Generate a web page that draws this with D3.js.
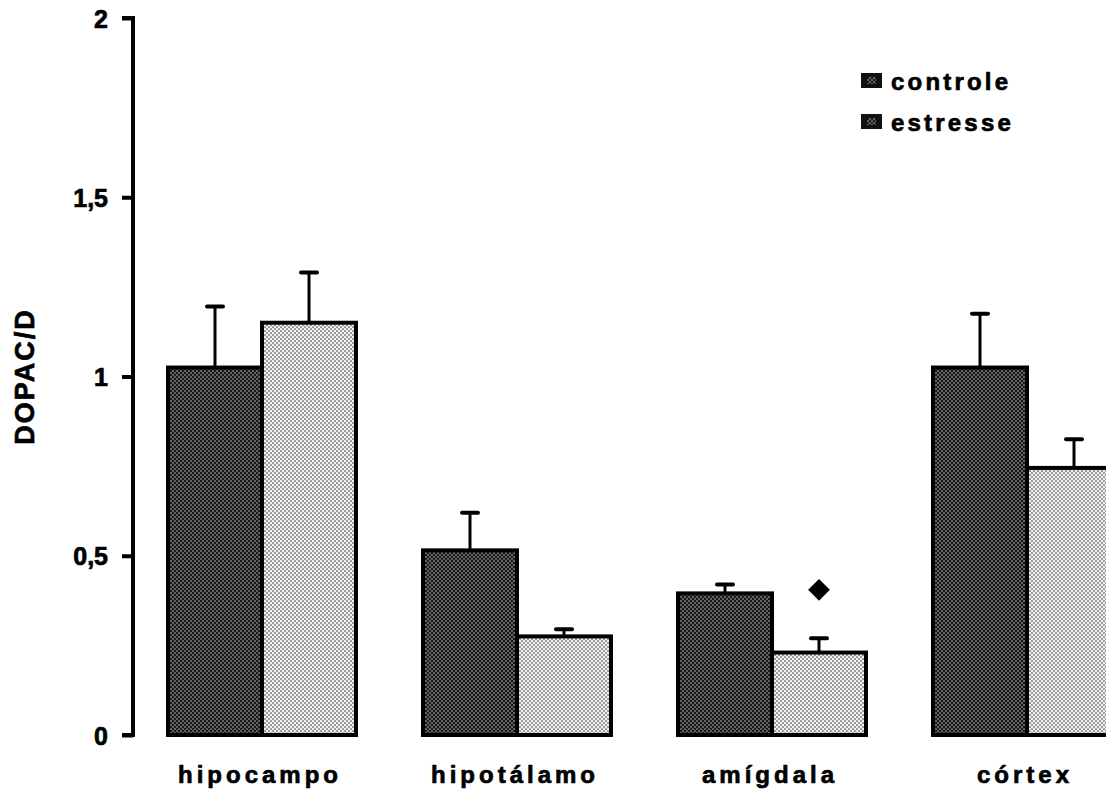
<!DOCTYPE html>
<html>
<head>
<meta charset="utf-8">
<script src="https://cdn.jsdelivr.net/npm/d3@7"></script>
<style>
  html, body { margin: 0; padding: 0; background: #fff; }
  svg { display: block; font-family: Arial, 'Liberation Sans', sans-serif; }
</style>
</head>
<body>
<svg id="chart" width="1106" height="792"></svg>
<script>
const regions = ['hipocampo', 'hipotálamo', 'amígdala', 'córtex']
const series = ['controle', 'estresse']
const controleMean = [1.025, 0.515, 0.395, 1.025]
const controleErr = [0.17, 0.105, 0.025, 0.15]
const estresseMean = [1.15, 0.275, 0.23, 0.745]
const estresseErr = [0.14, 0.02, 0.04, 0.08]
const yTicks = [0, 0.5, 1, 1.5, 2]
const marked = [{region: 'amígdala', value: 0.405}]  // diamond marker

const svg = d3.select('#chart')
const margins = {left: 133, top: 18, right: 0, bottom: 57}
const W = 1106, H = 792

// patterns: dotted halftone look
const defs = svg.append('defs')
function dots(id, bg, fg, r) {
  const p = defs.append('pattern')
    .attr('id', id).attr('width', 4).attr('height', 4)
    .attr('patternUnits', 'userSpaceOnUse')
  p.append('rect').attr('width', 4).attr('height', 4).attr('fill', bg)
  p.append('circle').attr('cx', 1).attr('cy', 1).attr('r', r).attr('fill', fg)
  p.append('circle').attr('cx', 3).attr('cy', 3).attr('r', r).attr('fill', fg)
}
dots('pat-controle', '#1a1a1a', '#d0d0d0', 0.75)
dots('pat-estresse', '#f0f0f0', '#4a4a4a', 0.85)

const y = d3.scaleLinear().domain([0, 2]).range([H - margins.bottom, margins.top])
// each group 255 px wide, junction of the two bars at the band centre
const x0 = d3.scaleBand().domain(regions).range([134.5, 1154.5]).paddingInner(0).paddingOuter(0)
const x1 = d3.scaleBand().domain(series).range([-94, 94])

const data = regions.map((r, i) => ({
  region: r,
  values: [
    {key: 'controle', mean: controleMean[i], err: controleErr[i]},
    {key: 'estresse', mean: estresseMean[i], err: estresseErr[i]},
  ]
}))

const center = (r) => x0(r) + x0.bandwidth() / 2

// heavier bold text, like the scanned original
const heavy = (sel) => sel.attr('stroke', '#000').attr('stroke-width', 0.7).attr('fill', '#000')

// y axis
const yAxis = d3.axisLeft(y).tickValues(yTicks).tickSize(11).tickPadding(14)
  .tickFormat((d) => d3.format('.1~f')(d).replace('.', ','))
const ya = svg.append('g')
  .attr('transform', `translate(${margins.left},0)`)
  .call(yAxis)
ya.attr('font-size', null).attr('font-family', null)
ya.select('.domain').attr('stroke', '#000').attr('stroke-width', 4)
  .attr('d', `M-11,${y(2)}H0V${y(0)}H-11`)
ya.selectAll('.tick line').attr('stroke', '#000').attr('stroke-width', 4)
ya.selectAll('.tick text')
  .call(heavy)
  .style('font-size', '25px').style('font-weight', 'bold')
  .attr('dy', '0.36em')

svg.append('text')
  .attr('transform', `translate(34, ${(y(0) + y(2)) / 2}) rotate(-90)`)
  .attr('text-anchor', 'middle')
  .style('font-size', '27px').style('font-weight', 'bold')
  .attr('letter-spacing', 2)
  .call(heavy)
  .text('DOPAC/D')

// bars
const groups = svg.append('g').selectAll('g')
  .data(data).enter().append('g')
  .attr('transform', (d) => `translate(${center(d.region)},0)`)

groups.selectAll('line.err')
  .data((d) => d.values).enter().append('line')
  .attr('class', 'err')
  .attr('x1', (d) => x1(d.key) + x1.bandwidth() / 2)
  .attr('x2', (d) => x1(d.key) + x1.bandwidth() / 2)
  .attr('y1', (d) => y(d.mean))
  .attr('y2', (d) => y(d.mean + d.err))
  .attr('stroke', '#000').attr('stroke-width', 3)

groups.selectAll('line.cap')
  .data((d) => d.values).enter().append('line')
  .attr('class', 'cap')
  .attr('x1', (d) => x1(d.key) + x1.bandwidth() / 2 - 8)
  .attr('x2', (d) => x1(d.key) + x1.bandwidth() / 2 + 8)
  .attr('y1', (d) => y(d.mean + d.err))
  .attr('y2', (d) => y(d.mean + d.err))
  .attr('stroke', '#000').attr('stroke-width', 4).attr('stroke-linecap', 'round')

groups.selectAll('rect')
  .data((d) => d.values).enter().append('rect')
  .attr('x', (d) => x1(d.key))
  .attr('y', (d) => y(d.mean))
  .attr('width', x1.bandwidth())
  .attr('height', (d) => y(0) - y(d.mean))
  .attr('fill', (d) => `url(#pat-${d.key})`)
  .attr('stroke', '#000').attr('stroke-width', 4)

// category labels
svg.append('g').selectAll('text')
  .data(regions).enter().append('text')
  .attr('x', (d) => center(d) - 2)
  .attr('y', 783)
  .attr('text-anchor', 'middle')
  .style('font-size', '24px').style('font-weight', 'bold')
  .attr('letter-spacing', 4)
  .call(heavy)
  .text((d) => d)

// significance diamond
svg.selectAll('path.mark')
  .data(marked).enter().append('path')
  .attr('class', 'mark')
  .attr('d', d3.symbol().type(d3.symbolDiamond2).size(300))
  .attr('transform', (d) => `translate(${center(d.region) + x1('estresse') + x1.bandwidth() / 2}, ${y(d.value)})`)
  .attr('fill', '#000')

// legend
const legend = svg.append('g').attr('transform', 'translate(861, 73)')
const li = legend.selectAll('g').data(series).enter().append('g')
  .attr('transform', (d, i) => `translate(0, ${i * 41})`)
li.append('rect')
  .attr('width', 21).attr('height', 15)
  .attr('fill', '#111')
li.append('rect')
  .attr('x', 6).attr('y', 4).attr('width', 9).attr('height', 7)
  .attr('fill', (d) => `url(#pat-controle)`)
li.append('text')
  .attr('x', 30).attr('y', 17)
  .style('font-size', '24px').style('font-weight', 'bold')
  .attr('letter-spacing', 3.2)
  .call(heavy)
  .text((d) => d)
</script>
</body>
</html>
